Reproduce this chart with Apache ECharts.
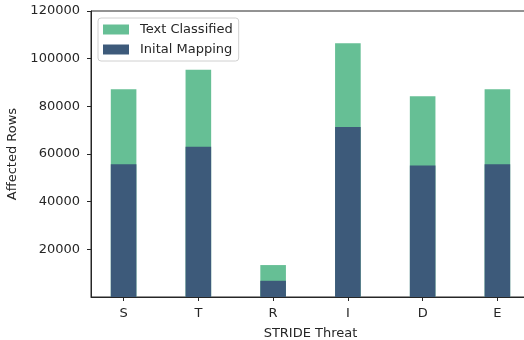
<!DOCTYPE html>
<html>
<head>
<meta charset="utf-8">
<script src="https://cdn.jsdelivr.net/npm/echarts@6/dist/echarts.min.js"></script>
<style>html,body{margin:0;padding:0;background:#fff}#c{width:524px;height:340px}</style>
</head>
<body>
<div id="c"></div>
<script>
const categories = ['S', 'T', 'R', 'I', 'D', 'E'];
const initialMapping = [55700, 63000, 6800, 71300, 55200, 55700];
const totalAffected = [87200, 95300, 13400, 106500, 84200, 87200];
const yTicks = [0, 20000, 40000, 60000, 80000, 100000, 120000];

const font = 'DejaVu Sans';
const ink = '#262626';
const chart = echarts.init(document.getElementById('c'), null, {renderer: 'canvas'});
const positions = categories.map((_, i) => i);
chart.setOption({
  animation: false,
  textStyle: {fontFamily: font},
  grid: {left: 91, top: 11, right: -6, bottom: 43, outerBoundsMode: 'none', containLabel: false,
         show: true, borderColor: ink, borderWidth: 1, backgroundColor: 'transparent'},
  legend: {
    orient: 'vertical', left: 98, top: 18,
    data: ['Text Classified', 'Inital Mapping'],
    selectedMode: false,
    icon: 'rect', itemWidth: 26, itemHeight: 10, itemGap: 7,
    padding: [5, 6, 5, 5],
    borderColor: '#d0d0d0', borderWidth: 1, borderRadius: 3,
    textStyle: {fontFamily: font, fontSize: 13, color: ink, padding: [0, 0, 0, 6]}
  },
  xAxis: {
    type: 'value', min: -0.436, max: 5.436,
    name: 'STRIDE Threat', nameLocation: 'middle', nameGap: 30,
    nameTextStyle: {fontFamily: font, fontSize: 13, color: ink},
    splitLine: {show: false},
    axisLine: {show: true, onZero: false, lineStyle: {color: ink}},
    axisTick: {show: true, customValues: positions, length: 4, lineStyle: {color: ink}},
    axisLabel: {customValues: positions, margin: 10, fontFamily: font, fontSize: 13, color: ink,
      formatter: v => categories[Math.round(v)] ?? ''}
  },
  yAxis: {
    type: 'value', min: 0, max: 120000,
    name: 'Affected Rows', nameLocation: 'middle', nameGap: 63,
    nameTextStyle: {fontFamily: font, fontSize: 13, color: ink},
    splitLine: {show: false},
    axisLine: {show: true, onZero: false, lineStyle: {color: ink}},
    axisTick: {show: true, customValues: yTicks.slice(1), length: 4, lineStyle: {color: ink}},
    axisLabel: {customValues: yTicks, margin: 11, fontFamily: font, fontSize: 13, color: ink,
      formatter: v => v === 0 ? '' : String(v)}
  },
  series: [
    {name: 'Text Classified', type: 'bar', barWidth: 25.6, barGap: '-100%', z: 2,
     itemStyle: {color: '#66bf95'},
     data: totalAffected.map((v, i) => [i, v])},
    {name: 'Inital Mapping', type: 'bar', barWidth: 25.6, barGap: '-100%', z: 3,
     itemStyle: {color: '#3d5a7a'},
     data: initialMapping.map((v, i) => [i, v])}
  ]
});
</script>
</body>
</html>
